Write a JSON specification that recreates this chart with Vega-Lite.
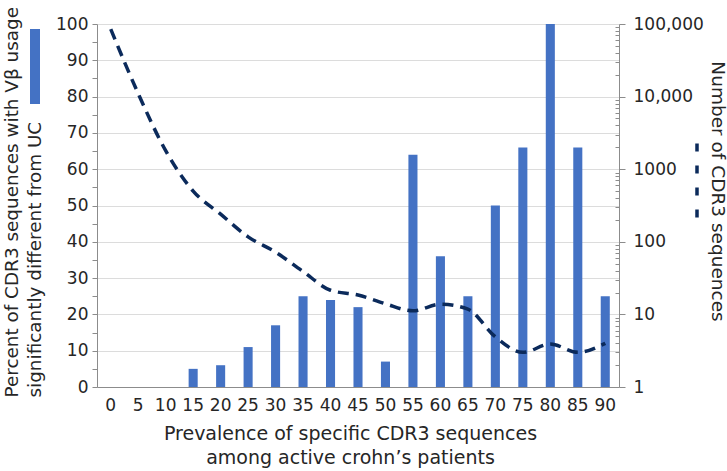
{
  "$schema": "https://vega.github.io/schema/vega-lite/v6.json",
  "width": 522,
  "height": 363,
  "autosize": {"type": "none"},
  "padding": {"left": 97, "top": 24, "right": 108, "bottom": 84},
  "config": {
    "view": {"stroke": null},
    "font": "DejaVu Sans",
    "axis": {
      "labelColor": "#262626",
      "titleColor": "#262626",
      "labelFontSize": 17,
      "titleFontSize": 19,
      "titleFontWeight": "normal",
      "domainColor": "#8c8c8c",
      "tickColor": "#8c8c8c",
      "labelOverlap": false,
      "labelBound": false
    }
  },
  "data": {
    "values": [
      {"prev": 0, "pct": 0, "count": 85000},
      {"prev": 5, "pct": 0, "count": 11000},
      {"prev": 10, "pct": 0, "count": 1800},
      {"prev": 15, "pct": 5, "count": 500},
      {"prev": 20, "pct": 6, "count": 240},
      {"prev": 25, "pct": 11, "count": 117},
      {"prev": 30, "pct": 17, "count": 72},
      {"prev": 35, "pct": 25, "count": 39},
      {"prev": 40, "pct": 24, "count": 21.5},
      {"prev": 45, "pct": 22, "count": 18.5},
      {"prev": 50, "pct": 7, "count": 14},
      {"prev": 55, "pct": 64, "count": 11.2},
      {"prev": 60, "pct": 36, "count": 13.8},
      {"prev": 65, "pct": 25, "count": 11.8},
      {"prev": 70, "pct": 50, "count": 4.9},
      {"prev": 75, "pct": 66, "count": 3},
      {"prev": 80, "pct": 100, "count": 3.9},
      {"prev": 85, "pct": 66, "count": 3},
      {"prev": 90, "pct": 25, "count": 4}
    ]
  },
  "encoding": {
    "x": {
      "field": "prev",
      "type": "ordinal",
      "scale": {"paddingInner": 0.67, "paddingOuter": 0.335},
      "axis": {
        "labelAngle": 0,
        "ticks": false,
        "labelPadding": 10,
        "title": ["Prevalence of specific CDR3 sequences", "among active crohn’s patients"],
        "titleLineHeight": 24.5,
        "titleX": 253,
        "titleY": 52,
        "titleAlign": "center",
        "titleBaseline": "alphabetic"
      }
    }
  },
  "layer": [
    {
      "mark": {"type": "bar"},
      "encoding": {
        "y": {
          "field": "pct",
          "type": "quantitative",
          "scale": {"domain": [0, 100], "nice": false},
          "axis": {
            "orient": "left",
            "values": [0, 5, 10, 15, 20, 25, 30, 35, 40, 45, 50, 55, 60, 65, 70, 75, 80, 85, 90, 95, 100],
            "labelExpr": "datum.value % 10 === 0 ? datum.label : ''",
            "grid": true,
            "gridColor": "#dcdcdc",
            "gridOpacity": {"condition": {"test": "datum.value % 10 === 0", "value": 1}, "value": 0},
            "tickSize": 5,
            "labelPadding": 4,
            "title": ["Percent of CDR3 sequences with Vβ usage", "significantly different from UC"],
            "titleFontSize": 18.4,
            "titleAngle": 270,
            "titleAlign": "left",
            "titleBaseline": "alphabetic",
            "titleLineHeight": 23,
            "titleX": -80,
            "titleY": 373
          }
        },
        "color": {
          "datum": "bar",
          "scale": {"range": ["#4472C4"]},
          "legend": {
            "orient": "none",
            "legendX": -99.5,
            "legendY": 5,
            "title": null,
            "labelExpr": "''",
            "padding": 0,
            "symbolType": "M-0.133,-1L0.133,-1L0.133,1L-0.133,1Z",
            "symbolSize": 5625,
            "symbolStrokeWidth": 0
          }
        }
      }
    },
    {
      "mark": {"type": "line", "strokeDash": [11, 7], "strokeWidth": 3.5, "interpolate": "monotone"},
      "encoding": {
        "y": {
          "field": "count",
          "type": "quantitative",
          "scale": {"type": "log", "domain": [1, 100000], "nice": false},
          "axis": {
            "orient": "right",
            "grid": false,
            "values": [1, 2, 3, 4, 5, 6, 7, 8, 9, 10, 20, 30, 40, 50, 60, 70, 80, 90, 100, 200, 300, 400, 500, 600, 700, 800, 900, 1000, 2000, 3000, 4000, 5000, 6000, 7000, 8000, 9000, 10000, 20000, 30000, 40000, 50000, 60000, 70000, 80000, 90000, 100000],
            "labelExpr": "indexof([1, 10, 100, 1000, 10000, 100000], datum.value) >= 0 ? (datum.value >= 10000 ? format(datum.value, ',') : format(datum.value, 'd')) : ''",
            "tickSize": {"condition": {"test": "indexof([1, 10, 100, 1000, 10000, 100000], datum.value) >= 0", "value": 6}, "value": -4},
            "labelPadding": 8,
            "title": "Number of CDR3 sequences",
            "titleFontSize": 18.5,
            "titleAngle": 90,
            "titleAlign": "center",
            "titleBaseline": "alphabetic",
            "titleX": 92,
            "titleY": 167
          }
        },
        "stroke": {
          "datum": "line",
          "scale": {"range": ["#0b2a5b"]},
          "legend": {
            "orient": "none",
            "legendX": 561,
            "legendY": 117.5,
            "title": null,
            "labelExpr": "''",
            "padding": 0,
            "symbolType": "M0,-1L0,1",
            "symbolSize": 5476,
            "symbolStrokeWidth": 3.5,
            "symbolDash": [8, 14],
            "symbolFillColor": "transparent"
          }
        }
      }
    }
  ],
  "resolve": {"scale": {"y": "independent"}}
}
